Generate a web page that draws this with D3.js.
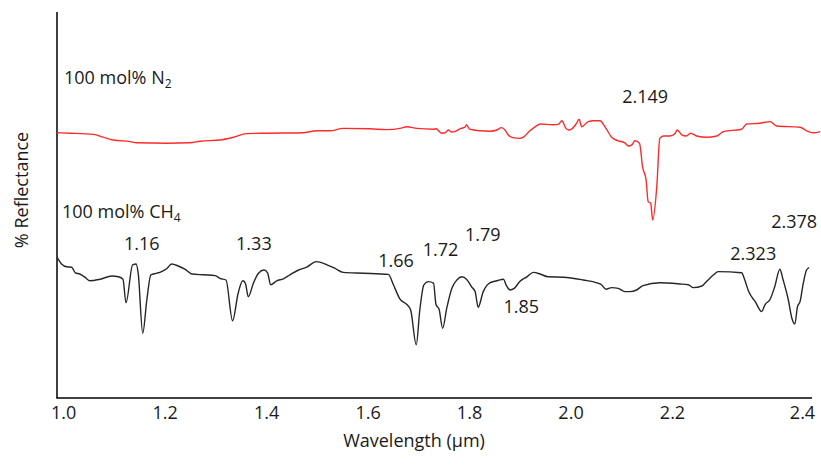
<!DOCTYPE html>
<html>
<head>
<meta charset="utf-8">
<script src="https://cdn.jsdelivr.net/npm/d3@7"></script>
<style>
  html, body { margin: 0; padding: 0; background: #fff; }
  svg { display: block; font-family: "Open Sans", "Liberation Sans", sans-serif; }
</style>
</head>
<body>
<svg id="chart" width="821" height="465"></svg>
<script>
// Near-infrared reflectance spectra of N2 and CH4 ices (offset for clarity)

// 100 mol% N2 spectrum: wavelength (µm) and relative reflectance
const n2Wavelength = [0.988, 1.014, 1.060, 1.079, 1.099, 1.132, 1.145, 1.204, 1.250, 1.270,
  1.309, 1.336, 1.362, 1.401, 1.473, 1.500, 1.526, 1.552, 1.605, 1.638,
  1.664, 1.678, 1.697, 1.730, 1.735, 1.746, 1.753, 1.759, 1.766, 1.772,
  1.782, 1.792, 1.795, 1.801, 1.822, 1.841, 1.855, 1.864, 1.871, 1.877,
  1.886, 1.900, 1.908, 1.920, 1.930, 1.941, 1.966, 1.976, 1.983, 1.991,
  1.996, 2.002, 2.012, 2.017, 2.022, 2.035, 2.045, 2.058, 2.068, 2.081,
  2.094, 2.107, 2.114, 2.121, 2.127, 2.136, 2.142, 2.149, 2.153, 2.158,
  2.162, 2.170, 2.176, 2.183, 2.196, 2.205, 2.208, 2.215, 2.222, 2.229,
  2.238, 2.253, 2.269, 2.279, 2.307, 2.315, 2.335, 2.351, 2.361, 2.397,
  2.407, 2.418, 2.428];
const n2Reflectance = [66.3, 66.2, 65.9, 65.2, 64.5, 64.1, 63.8, 63.7, 63.8, 64.2,
  64.5, 65.2, 66.1, 66.2, 66.3, 66.8, 66.8, 67.4, 67.3, 67.1,
  67.4, 67.8, 67.4, 67.2, 67.3, 66.2, 66.3, 67.0, 66.5, 66.6,
  67.3, 67.7, 68.3, 67.2, 66.8, 66.7, 67.0, 67.6, 67.0, 65.8,
  65.1, 64.9, 65.3, 66.8, 67.8, 68.5, 68.3, 68.4, 69.3, 67.4,
  67.0, 67.2, 68.7, 69.7, 67.8, 69.1, 69.3, 69.3, 67.8, 65.2,
  64.3, 63.8, 63.0, 63.3, 64.3, 63.7, 57.8, 54.5, 49.1, 48.7,
  44.5, 52.8, 64.9, 65.5, 65.5, 66.2, 67.0, 65.8, 65.5, 66.2,
  65.5, 65.2, 65.5, 66.6, 67.2, 68.5, 68.7, 69.1, 68.0, 67.7,
  66.8, 66.3, 66.6];

// 100 mol% CH4 spectrum
const ch4Wavelength = [0.988, 0.997, 1.007, 1.017, 1.024, 1.033, 1.043, 1.053, 1.073, 1.096,
  1.109, 1.118, 1.124, 1.137, 1.144, 1.148, 1.157, 1.165, 1.173, 1.185,
  1.194, 1.204, 1.214, 1.227, 1.240, 1.254, 1.276, 1.300, 1.309, 1.321,
  1.334, 1.345, 1.354, 1.359, 1.365, 1.375, 1.385, 1.396, 1.403, 1.409,
  1.421, 1.434, 1.447, 1.464, 1.480, 1.499, 1.520, 1.536, 1.552, 1.592,
  1.641, 1.651, 1.664, 1.678, 1.685, 1.696, 1.703, 1.711, 1.720, 1.730,
  1.735, 1.741, 1.748, 1.756, 1.766, 1.776, 1.786, 1.795, 1.805, 1.812,
  1.818, 1.828, 1.841, 1.855, 1.868, 1.873, 1.881, 1.889, 1.900, 1.914,
  1.927, 1.940, 1.956, 1.986, 2.025, 2.052, 2.061, 2.070, 2.081, 2.094,
  2.107, 2.117, 2.130, 2.143, 2.176, 2.212, 2.225, 2.233, 2.246, 2.253,
  2.264, 2.271, 2.307, 2.312, 2.318, 2.328, 2.338, 2.343, 2.351, 2.358,
  2.366, 2.371, 2.379, 2.384, 2.389, 2.393, 2.397, 2.402, 2.407, 2.411];
const ch4Reflectance = [35.2, 33.5, 32.8, 32.7, 31.3, 31.0, 30.2, 29.3, 29.7, 30.5,
  30.3, 29.7, 23.8, 33.3, 33.5, 31.2, 16.2, 24.5, 30.8, 31.2,
  31.6, 32.3, 33.5, 33.0, 32.2, 31.0, 30.8, 30.6, 29.9, 29.5,
  19.3, 26.2, 29.3, 28.8, 25.3, 28.7, 31.2, 32.0, 31.3, 28.3,
  29.3, 29.8, 30.8, 32.0, 32.7, 34.1, 33.3, 32.4, 31.4, 31.2,
  30.9, 28.3, 24.7, 23.3, 22.0, 13.3, 22.0, 28.3, 29.1, 28.7,
  23.3, 22.2, 17.4, 22.4, 27.4, 29.5, 30.3, 29.7, 27.8, 26.6,
  22.7, 26.6, 28.8, 29.3, 29.7, 28.3, 27.0, 27.4, 29.1, 30.3,
  31.4, 31.0, 30.3, 30.2, 29.5, 28.8, 28.3, 27.2, 27.6, 27.4,
  26.6, 26.6, 27.0, 28.1, 28.8, 28.5, 28.3, 27.6, 28.0, 29.1,
  30.8, 31.6, 31.3, 29.5, 26.6, 24.1, 21.6, 23.3, 24.7, 27.8,
  32.2, 29.5, 24.5, 20.2, 18.5, 22.8, 24.1, 28.7, 32.0, 32.6];

// Axis tick labels
const xTicks = [1.0, 1.2, 1.4, 1.6, 1.8, 2.0, 2.2, 2.4];

// Band annotations: text, wavelength position, reflectance position
const bandText = ["2.149", "1.16", "1.33", "1.66", "1.72", "1.79", "1.85", "2.323", "2.378"];
const bandX = [2.147, 1.155, 1.376, 1.656, 1.744, 1.827, 1.903, 2.325, 2.388];
const bandY = [73.7, 37.0, 37.0, 32.7, 35.5, 39.2, 21.2, 34.5, 42.5];

const svg = d3.select("#chart");
const margin = { left: 57, top: 12, bottom: 398 };
const textColor = "#1a1a1a";
const fontSize = 18;

// Wavelength axis: the last interval is drawn wider than the others
const x = d3.scaleLinear()
  .domain([0.988, 2.2, 2.4])
  .range([margin.left, 672, 802]);
const y = d3.scaleLinear().domain([0, 100]).range([margin.bottom, -2]);

// Axis lines
svg.append("line")
  .attr("x1", margin.left).attr("x2", margin.left)
  .attr("y1", margin.top).attr("y2", margin.bottom)
  .attr("stroke", "#000").attr("stroke-width", 1.5);
svg.append("line")
  .attr("x1", margin.left - 0.75).attr("x2", 812)
  .attr("y1", margin.bottom).attr("y2", margin.bottom)
  .attr("stroke", "#000").attr("stroke-width", 1.5);

const xAxis = d3.axisBottom(x)
  .tickValues(xTicks)
  .tickFormat(d3.format(".1f"))
  .tickSize(0)
  .tickPadding(8);
const gx = svg.append("g")
  .attr("transform", `translate(0,${margin.bottom})`)
  .call(xAxis);
gx.select(".domain").remove();
gx.selectAll("text")
  .attr("font-family", "'Open Sans', sans-serif")
  .attr("font-size", fontSize)
  .attr("fill", textColor);

// Axis titles
svg.append("text")
  .attr("x", 414).attr("y", 447)
  .attr("text-anchor", "middle")
  .attr("font-size", fontSize).attr("fill", textColor)
  .text("Wavelength (µm)");
svg.append("text")
  .attr("transform", "translate(28,190) rotate(-90)")
  .attr("text-anchor", "middle")
  .attr("font-size", fontSize).attr("fill", textColor)
  .text("% Reflectance");

// Spectra
const line = d3.line()
  .x(d => x(d[0]))
  .y(d => y(d[1]))
  .curve(d3.curveMonotoneX);

svg.append("path")
  .datum(d3.zip(n2Wavelength, n2Reflectance))
  .attr("fill", "none")
  .attr("stroke", "#ff2a2a")
  .attr("stroke-width", 1.4)
  .attr("stroke-linejoin", "round")
  .attr("d", line);

svg.append("path")
  .datum(d3.zip(ch4Wavelength, ch4Reflectance))
  .attr("fill", "none")
  .attr("stroke", "#262626")
  .attr("stroke-width", 1.4)
  .attr("stroke-linejoin", "round")
  .attr("d", line);

// Series labels with subscripts
function seriesLabel(xPos, yPos, main, sub) {
  const t = svg.append("text")
    .attr("x", xPos).attr("y", yPos)
    .attr("font-size", fontSize).attr("fill", textColor);
  t.append("tspan").text(main);
  t.append("tspan").attr("font-size", 12).attr("dy", 4).text(sub);
}
seriesLabel(64, 84, "100 mol% N", "2");
seriesLabel(62, 218, "100 mol% CH", "4");

// Absorption band labels
svg.append("g")
  .selectAll("text")
  .data(d3.zip(bandText, bandX, bandY))
  .join("text")
  .attr("x", d => x(d[1]))
  .attr("y", d => y(d[2]))
  .attr("text-anchor", "middle")
  .attr("font-size", fontSize)
  .attr("fill", textColor)
  .text(d => d[0]);
</script>
</body>
</html>
